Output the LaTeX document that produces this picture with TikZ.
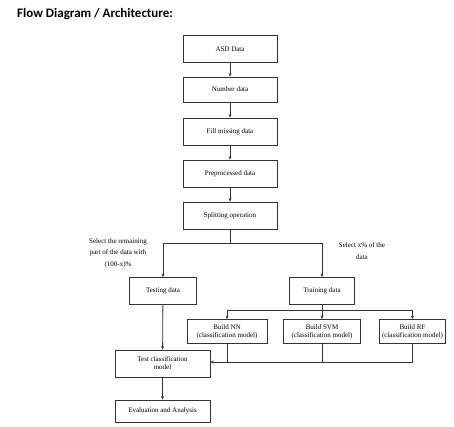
\documentclass[tikz,border=0pt]{standalone}
\usepackage{fontspec}
\setmainfont{Liberation Serif}
\newfontfamily\titlefont{Carlito}
\usetikzlibrary{arrows.meta}
\begin{document}
\begin{tikzpicture}[x=1pt,y=-1pt,
  box/.style={draw=black!80,line width=0.8pt,align=center,font=\fontsize{7}{8}\selectfont,inner sep=1pt},
  lbl/.style={align=center,font=\fontsize{7}{11.5}\selectfont,inner sep=0pt},
  conn/.style={draw=black!80,line width=0.8pt},
  arr/.style={conn,-{Stealth[length=3.5pt,width=3pt]}}]
\useasboundingbox[fill=white] (0,0) rectangle (454,427);
\node[anchor=west,font=\titlefont\bfseries\fontsize{13}{15}\selectfont,inner sep=0pt] (title) at (17,14) {Flow Diagram / Architecture:};
\node[box,minimum width=94pt,minimum height=27pt] (b1) at (230,49) {ASD Data};
\node[box,minimum width=94pt,minimum height=25pt] (b2) at (230,89.5) {Number data};
\node[box,minimum width=94pt,minimum height=27pt] (b3) at (230,131.5) {Fill missing data};
\node[box,minimum width=94pt,minimum height=27pt] (b4) at (230,173.5) {Preprocessed data};
\node[box,minimum width=94pt,minimum height=27pt] (b5) at (230,215.5) {Splitting operation};
\node[box,minimum width=67pt,minimum height=27pt] (test) at (163,291) {Testing data};
\node[box,minimum width=65pt,minimum height=27pt] (train) at (322,291) {Training data};
\node[box,minimum width=80pt,minimum height=24pt] (nn) at (227,331.5) {Build NN\\(classification model)};
\node[box,minimum width=77pt,minimum height=24pt] (svm) at (322,331.5) {Build SVM\\(classification model)};
\node[box,minimum width=66pt,minimum height=24pt] (rf) at (412.5,331.5) {Build RF\\(classification model)};
\node[box,minimum width=95pt,minimum height=27pt] (tc) at (162.5,363.5) {Test classification\\model};
\node[box,minimum width=95pt,minimum height=22pt] (ev) at (162.5,411) {Evaluation and Analysis};
\node[lbl] (l1) at (118,253) {Select the remaining\\part of the data with\\(100-x)\%};
\node[lbl] (l2) at (362,251) {Select x\% of the\\data};
\coordinate (sp) at (230,243);
\coordinate (spl) at (163,243);
\coordinate (spr) at (322,243);
\coordinate (tr) at (322,310);
\coordinate (trl) at (227,310);
\coordinate (trr) at (412.5,310);
\coordinate (jy) at (412.5,362);
\draw[arr] (b1) -- (b2);
\draw[arr] (b2) -- (b3);
\draw[arr] (b3) -- (b4);
\draw[arr] (b4) -- (b5);
\draw[conn] (b5) -- (sp);
\draw[conn] (spl) -- (spr);
\draw[arr] (spl) -- (test);
\draw[arr] (spr) -- (train);
\draw[conn] (train) -- (tr);
\draw[conn] (trl) -- (trr);
\draw[arr] (trl) -- (nn);
\draw[arr] (tr) -- (svm);
\draw[arr] (trr) -- (rf);
\draw[arr] (test) -- (tc);
\draw[conn] (nn.south) -- (nn.south |- jy);
\draw[conn] (svm.south) -- (svm.south |- jy);
\draw[conn] (rf.south) -- (jy);
\draw[arr] (jy) -- (tc.east |- jy);
\draw[arr] (tc) -- (ev);
\end{tikzpicture}
\end{document}
